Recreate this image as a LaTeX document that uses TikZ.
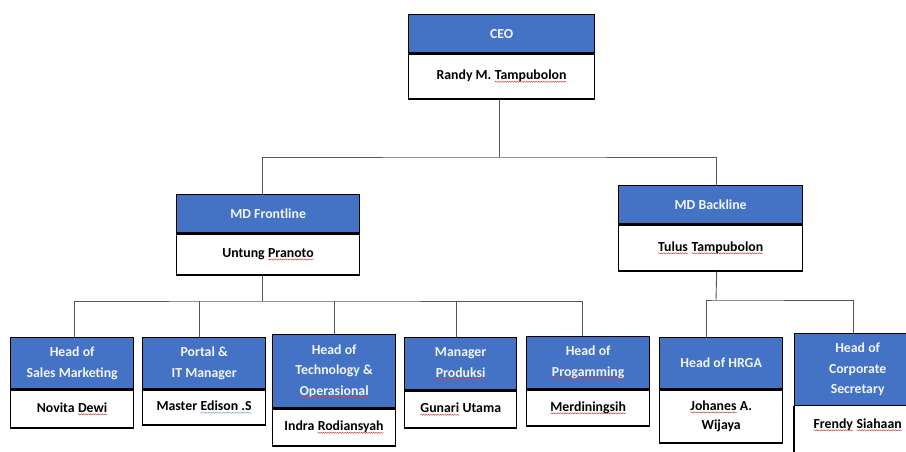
\documentclass[tikz,border=0pt]{standalone}
\usepackage{fontspec}
\usetikzlibrary{decorations.pathmorphing}
\setmainfont{Carlito}
\definecolor{hdblue}{HTML}{4472C4}
\definecolor{hdtext}{HTML}{F2F5FC}
\definecolor{conngray}{HTML}{555555}
\definecolor{sqred}{HTML}{D04848}
\definecolor{sqblue}{HTML}{7FA8E0}
\newcommand{\sqw}[2][sqred]{\tikz[baseline=(w.base)]{\node[draw=none,fill=none,minimum width=0pt,minimum height=0pt,inner sep=0pt,outer sep=0pt,anchor=base,shape=rectangle,align=left] (w) at (0,0) {#2};
  \draw[draw=#1, line width=0.5pt, decorate, decoration={snake,amplitude=0.55pt,segment length=2.4pt}] ([yshift=-1.8pt]w.base west) -- ([yshift=-1.8pt]w.base east);}}
\begin{document}
\begin{tikzpicture}[x=1pt,y=-1pt,
  title/.style={draw=black, line width=1.3pt, fill=hdblue, text=hdtext, font=\fontsize{13.8}{20.5}\selectfont\bfseries, align=center, inner sep=0pt, anchor=north west},
  person/.style={draw=black, line width=1.3pt, fill=white, text=black, font=\fontsize{13.8}{19}\selectfont\bfseries, align=center, inner sep=0pt, anchor=north},
  conn/.style={draw=conngray, line width=0.9pt}]
\clip (0,0) rectangle (906,451);
\fill[white] (0,0) rectangle (906,451);

% CEO
\node[title, minimum width=186pt, minimum height=38pt] (ceoT) at (408,14) {CEO};
\node[person, minimum width=186pt, minimum height=45pt] (ceoP) at (ceoT.south) {Randy M. \sqw{Tampubolon}};

% MD level
\node[title, minimum width=183pt, minimum height=38pt] (mdfT) at (176,194) {MD Frontline};
\node[person, minimum width=183pt, minimum height=41pt] (mdfP) at (mdfT.south) {Untung \sqw{Pranoto}};
\node[title, minimum width=184pt, minimum height=38pt] (mdbT) at (618,185) {MD Backline};
\node[person, minimum width=184pt, minimum height=46pt] (mdbP) at (mdbT.south) {\sqw{Tulus} \sqw{Tampubolon}};

% Bottom level
\node[title, minimum width=123pt, minimum height=51pt] (salT) at (10,337) {Head of\\Sales Marketing};
\node[person, minimum width=123pt, minimum height=38pt] (salP) at (salT.south) {Novita \sqw{Dewi}};
\node[title, minimum width=123pt, minimum height=51pt] (porT) at (142,337) {Portal \&\\IT Manager};
\node[person, minimum width=123pt, minimum height=35pt] (porP) at (porT.south) {Master \sqw[sqblue]{Edison .S}};
\node[title, minimum width=123pt, minimum height=73pt] (tecT) at (272,334) {Head of\\Technology \&\\\sqw{Operasional}};
\node[person, minimum width=123pt, minimum height=37pt] (tecP) at (tecT.south) {Indra \sqw{Rodiansyah}};
\node[title, minimum width=112pt, minimum height=52pt] (proT) at (404,337) {Manager\\\sqw{Produksi}};
\node[person, minimum width=112pt, minimum height=37pt] (proP) at (proT.south) {\sqw{Gunari} Utama};
\node[title, minimum width=123pt, minimum height=52pt] (prgT) at (526,336) {Head of\\\sqw{Progamming}};
\node[person, minimum width=123pt, minimum height=36pt] (prgP) at (prgT.south) {\sqw{Merdiningsih}};
\node[title, minimum width=123pt, minimum height=51pt] (hrgT) at (659,337) {Head of HRGA};
\node[person, minimum width=123pt, minimum height=53pt] (hrgP) at (hrgT.south) {\sqw{Johanes} A.\\Wijaya};
\node[title, minimum width=126pt, minimum height=72pt] (corT) at (794,333) {Head of\\Corporate\\Secretary};
\node[person, draw=none, minimum width=126pt, minimum height=36pt] (corP) at (corT.south) {\sqw{Frendy} \sqw{Siahaan}};
\draw[black, line width=1.3pt] (corT.south west) -- ++(0,60);

% Connectors
\coordinate (busA) at (499,157);
\coordinate (busB) at (262,301);
\coordinate (busC) at (716,300);
\draw[conn] ([xshift=-2pt]ceoP.south) -- ([xshift=-2pt]ceoP.south |- busA);
\draw[conn] ([xshift=-5.5pt]mdfT.north) |- (busA) -| ([xshift=6pt]mdbT.north);
\draw[conn] ([xshift=-5.5pt]mdfP.south) -- ([xshift=-5.5pt]mdfP.south |- busB);
\draw[conn] ([xshift=2.5pt]salT.north) |- (busB) -| ([xshift=-5.5pt]prgT.north);
\draw[conn] ([xshift=-4.5pt]porT.north) -- ([xshift=-4.5pt]porT.north |- busB);
\draw[conn] (tecT.north) -- (tecT.north |- busB);
\draw[conn] ([xshift=-4pt]proT.north) -- ([xshift=-4pt]proT.north |- busB);
\draw[conn] ([xshift=6pt]mdbP.south) -- (busC);
\draw[conn] ([xshift=-14.5pt]hrgT.north) |- (busC) -| ([xshift=-4pt]corT.north);
\end{tikzpicture}
\end{document}
